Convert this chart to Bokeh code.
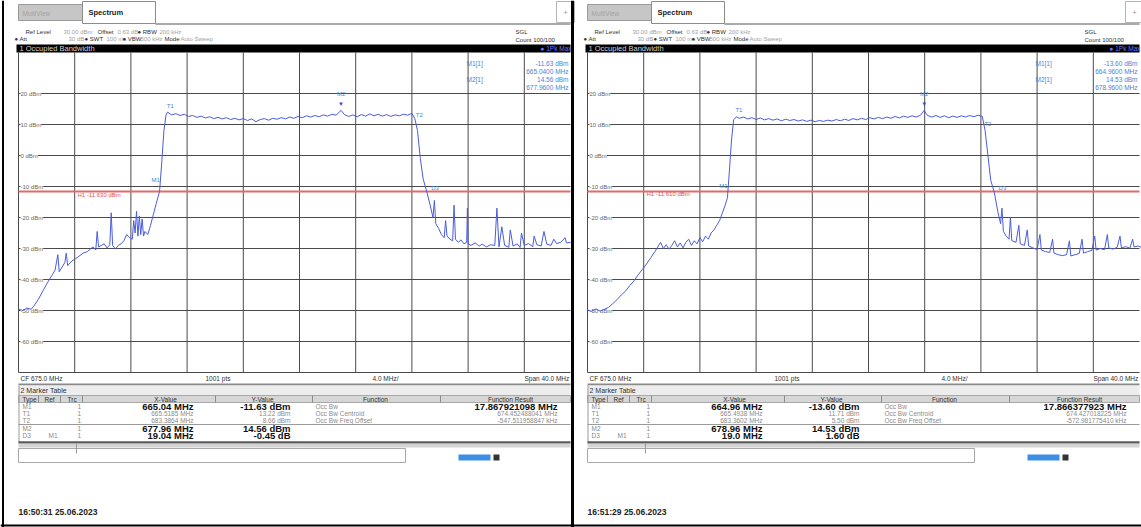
from bokeh.plotting import figure
from bokeh.models import Range1d
from bokeh.embed import file_html
from bokeh.resources import INLINE
from bokeh.core.properties import value

# ---------------- data ----------------
cf_mhz = 675.0
span_mhz = 40.0
ref_level_dbm = 30.0
db_per_div = 10.0

left_freq = [655.0, 655.3, 655.6, 655.9, 656.1, 656.4, 656.7, 657.0, 657.2, 657.4, 657.6, 657.8, 657.9,
             658.1, 658.3, 658.4, 658.5, 658.8, 659.0, 659.3, 659.6, 659.9, 660.1, 660.3, 660.5, 660.6,
             660.7, 660.9, 661.1, 661.3, 661.5, 661.6, 661.7, 661.9, 662.1, 662.3, 662.5, 662.7, 662.9,
             663.1, 663.2, 663.3, 663.4, 663.5, 663.6, 663.7, 663.8, 663.9, 664.0, 664.2, 664.4, 664.6,
             664.8, 665.04, 665.2, 665.35, 665.5, 665.6, 665.9, 666.2, 666.5, 666.8, 667.1, 667.4, 667.7,
             668.0, 668.3, 668.6, 668.9, 669.2, 669.5, 669.8, 670.1, 670.4, 670.7, 671.0, 671.3, 671.6,
             671.9, 672.2, 672.5, 672.8, 673.1, 673.4, 673.7, 674.0, 674.3, 674.6, 674.9, 675.2, 675.5,
             675.8, 676.1, 676.4, 676.7, 677.0, 677.3, 677.6, 677.96, 678.2, 678.5, 678.8, 679.1, 679.4,
             679.7, 680.0, 680.3, 680.6, 680.9, 681.2, 681.5, 681.8, 682.1, 682.4, 682.7, 683.0, 683.2,
             683.4, 683.6, 683.8, 684.08, 684.3, 684.5, 684.6, 684.7, 684.9, 685.1, 685.3, 685.4, 685.5,
             685.7, 685.9, 686.0, 686.1, 686.3, 686.5, 686.7, 686.9, 686.95, 687.0, 687.2, 687.5, 687.8,
             688.0, 688.3, 688.6, 688.9, 689.05, 689.2, 689.4, 689.6, 689.9, 690.0, 690.2, 690.5, 690.7,
             690.8, 691.0, 691.3, 691.6, 691.7, 691.9, 692.2, 692.4, 692.6, 692.9, 693.1, 693.3, 693.6,
             693.9, 694.0, 694.3]
left_dbm = [-49.5, -50.0, -49.2, -49.6, -48.5, -46.5, -44.0, -41.5, -40.0, -38.5, -37.0, -32.0, -37.5,
            -36.0, -34.5, -31.5, -35.5, -34.0, -33.5, -32.5, -31.5, -31.0, -30.2, -29.5, -30.5, -24.5,
            -29.5, -29.0, -28.5, -29.8, -28.8, -18.5, -29.0, -30.2, -29.0, -28.5, -27.5, -25.5, -26.5,
            -27.0, -21.0, -25.0, -18.0, -26.0, -19.5, -25.5, -20.5, -26.0, -24.5, -25.5, -22.5, -19.0,
            -15.5, -11.63, -2.0, 8.0, 13.0, 14.0, 13.1, 13.5, 12.9, 13.3, 12.6, 12.9, 12.3,
            12.7, 12.1, 12.5, 11.9, 12.3, 11.8, 12.2, 11.6, 12.0, 11.5, 11.9, 11.3, 11.8,
            10.9, 11.6, 11.9, 11.4, 12.0, 11.7, 12.2, 11.8, 12.4, 12.0, 12.6, 12.2, 12.8,
            12.4, 12.9, 12.5, 13.1, 12.7, 13.3, 13.0, 14.56, 13.2, 12.6, 13.1, 12.5, 13.2,
            12.7, 13.4, 12.8, 13.3, 12.7, 13.2, 12.6, 13.1, 12.8, 13.3, 13.0, 13.6, 12.0,
            8.0, -1.0, -7.5, -12.08, -16.0, -20.0, -14.5, -22.0, -23.5, -25.5, -26.5, -21.0, -26.0,
            -27.0, -27.5, -16.0, -27.0, -28.0, -27.2, -28.5, -28.0, -17.0, -28.5, -29.0, -28.2, -29.2,
            -28.6, -29.5, -28.8, -29.0, -17.0, -29.5, -23.0, -29.0, -29.6, -24.0, -29.2, -28.5, -29.7,
            -25.0, -29.0, -28.4, -29.4, -26.0, -28.8, -29.2, -24.5, -28.6, -29.0, -27.0, -28.4, -28.0,
            -26.5, -28.2, -28.0]

right_freq = [655.0, 655.3, 655.6, 655.9, 656.2, 656.5, 656.8, 657.1, 657.4, 657.7, 658.0, 658.3, 658.6,
              658.9, 659.2, 659.5, 659.8, 660.0, 660.2, 660.4, 660.6, 660.8, 661.0, 661.2, 661.4, 661.6,
              661.8, 662.0, 662.2, 662.4, 662.6, 662.8, 663.0, 663.2, 663.4, 663.6, 663.8, 664.0, 664.2,
              664.4, 664.6, 664.8, 664.96, 665.1, 665.25, 665.4, 665.6, 665.8, 666.1, 666.4, 666.7, 667.0,
              667.3, 667.6, 667.9, 668.2, 668.5, 668.8, 669.1, 669.4, 669.7, 670.0, 670.3, 670.6, 670.9,
              671.2, 671.5, 671.8, 672.1, 672.4, 672.7, 673.0, 673.3, 673.6, 673.9, 674.2, 674.5, 674.8,
              675.1, 675.4, 675.7, 676.0, 676.3, 676.6, 676.9, 677.2, 677.5, 677.8, 678.1, 678.4, 678.7,
              678.96, 679.2, 679.5, 679.8, 680.1, 680.4, 680.7, 681.0, 681.3, 681.6, 681.9, 682.2, 682.5,
              682.8, 683.1, 683.3, 683.5, 683.7, 683.96, 684.2, 684.4, 684.5, 684.6, 684.8, 685.0, 685.1,
              685.2, 685.5, 685.7, 685.8, 686.1, 686.3, 686.4, 686.7, 687.0, 687.2, 687.3, 687.6, 687.9,
              688.1, 688.2, 688.5, 688.8, 689.1, 689.3, 689.4, 689.7, 690.0, 690.2, 690.3, 690.6, 690.9,
              691.1, 691.2, 691.5, 691.8, 692.0, 692.1, 692.4, 692.7, 692.9, 693.0, 693.3, 693.6, 693.8,
              693.9, 694.2, 694.4, 694.7, 695.0]
right_dbm = [-49.8, -50.3, -49.5, -50.2, -49.6, -49.0, -47.8, -46.5, -45.0, -43.8, -42.0, -40.5, -38.5,
             -36.8, -35.0, -33.0, -31.0, -29.5, -28.0, -30.0, -28.8, -30.2, -29.0, -27.5, -29.5, -28.2,
             -29.8, -28.0, -27.0, -29.0, -27.5, -28.5, -26.5, -27.8, -26.0, -27.0, -25.0, -24.0, -22.5,
             -21.0, -18.5, -16.0, -13.60, -5.0, 5.0, 11.5, 12.5, 12.0, 12.4, 11.8, 12.2, 11.6,
             12.1, 11.5, 11.9, 11.4, 11.8, 11.2, 11.7, 11.3, 11.6, 11.1, 11.5, 11.0, 11.4,
             10.9, 11.3, 11.0, 11.4, 11.1, 11.6, 11.2, 11.7, 11.3, 11.9, 11.5, 12.0, 11.6,
             12.2, 11.8, 12.3, 11.9, 12.4, 12.0, 12.6, 12.1, 12.7, 12.3, 12.8, 12.4, 13.0,
             14.53, 12.9, 12.4, 12.9, 12.3, 12.8, 12.2, 12.7, 12.3, 12.8, 12.4, 12.9, 12.5,
             13.0, 12.6, 8.0, 0.0, -8.0, -12.0, -18.0, -22.0, -17.0, -24.5, -26.0, -27.0, -20.0,
             -27.5, -28.0, -22.5, -28.5, -29.0, -24.0, -29.2, -29.8, -30.3, -25.5, -30.5, -31.0, -31.3,
             -27.0, -31.5, -32.0, -32.3, -32.0, -27.5, -32.4, -32.0, -31.6, -27.0, -31.5, -31.0, -30.6,
             -26.0, -30.5, -30.0, -30.4, -25.5, -29.8, -30.2, -29.6, -26.0, -29.8, -29.4, -29.9, -27.0,
             -29.5, -29.2, -29.6, -29.0, -29.4]

level_labels = ["20 dBm", "10 dBm", "0 dBm", "-10 dBm", "-20 dBm", "-30 dBm", "-40 dBm", "-50 dBm", "-60 dBm"]
label_levels = [20, 10, 0, -10, -20, -30, -40, -50, -60]

marker_names = ["M1", "T1", "T2", "M2", "D3"]
left_mk_freq = [665.04, 665.5185, 683.3864, 677.96, 684.08]
left_mk_dbm = [-11.63, 13.22, 8.66, 14.56, -12.08]
right_mk_freq = [664.96, 665.4938, 683.3602, 678.96, 683.96]
right_mk_dbm = [-13.60, 11.71, 5.50, 14.53, -12.00]

left_line_dbm = -11.63
right_line_dbm = -11.61

left_table = [
    ["M1", "", "1", "665.04 MHz", "-11.63 dBm", "Occ Bw", "17.867921098 MHz"],
    ["T1", "", "1", "665.5185 MHz", "13.22 dBm", "Occ Bw Centroid", "674.452488041 MHz"],
    ["T2", "", "1", "683.3864 MHz", "8.66 dBm", "Occ Bw Freq Offset", "-547.511958847 kHz"],
    ["M2", "", "1", "677.96 MHz", "14.56 dBm", "", ""],
    ["D3", "M1", "1", "19.04 MHz", "-0.45 dB", "", ""],
]
right_table = [
    ["M1", "", "1", "664.96 MHz", "-13.60 dBm", "Occ Bw", "17.866377923 MHz"],
    ["T1", "", "1", "665.4938 MHz", "11.71 dBm", "Occ Bw Centroid", "674.427018225 MHz"],
    ["T2", "", "1", "683.3602 MHz", "5.50 dBm", "Occ Bw Freq Offset", "-572.981775410 kHz"],
    ["M2", "", "1", "678.96 MHz", "14.53 dBm", "", ""],
    ["D3", "M1", "1", "19.0 MHz", "1.60 dB", "", ""],
]
left_info = [["M1[1]", "-11.63 dBm"], ["", "665.0400 MHz"], ["M2[1]", "14.56 dBm"], ["", "677.9600 MHz"]]
right_info = [["M1[1]", "-13.60 dBm"], ["", "664.9600 MHz"], ["M2[1]", "14.53 dBm"], ["", "678.9600 MHz"]]
left_stamp = "16:50:31  25.06.2023"
right_stamp = "16:51:29  25.06.2023"

# ---------------- layout constants (screen pixels) ----------------
W, H = 1141, 527
KX = 56.2 / 4.0          # px per MHz
KY = 3.1                 # px per dB
REF_Y = 62               # pixel row of reference level
PLOT_TOP = 52
FONT = "Liberation Sans"

p = figure(width=W, height=H, x_range=Range1d(0, W), y_range=Range1d(H, 0),
           output_backend="svg", toolbar_location=None, min_border=0,
           x_axis_location=None, y_axis_location=None)
p.grid.visible = False
p.outline_line_color = None
p.background_fill_color = "white"
p.border_fill_color = "white"

f_start = cf_mhz - span_mhz / 2
p.extra_y_ranges["db"] = Range1d(ref_level_dbm - (H - REF_Y) / KY, ref_level_dbm + REF_Y / KY)
for name, px0 in (("fl", 18), ("fr", 587)):
    p.extra_x_ranges[name] = Range1d(f_start - px0 / KX, f_start + (W - px0) / KX)
top_db = ref_level_dbm + (REF_Y - PLOT_TOP) / KY


def txt(x, y, s, size=6.5, color="#333333", bold=False, align="left", **kw):
    p.text(x=[x], y=[y], text=[s], text_font=value(FONT), text_font_size=f"{size}px",
           text_color=color, text_align=align, text_baseline="middle",
           text_font_style="bold" if bold else "normal", **kw)


def box(l, r, t, b, fill, line=None, lw=1):
    p.quad(left=[l], right=[r], top=[t], bottom=[b], fill_color=fill,
           line_color=line, line_width=lw)


def hline(x0, x1, y, color, w=1):
    p.segment(x0=[x0], y0=[y], x1=[x1], y1=[y], line_color=color, line_width=w)


def vline(x, y0, y1, color, w=1):
    p.segment(x0=[x], y0=[y0], x1=[x], y1=[y1], line_color=color, line_width=w)


panels = [
    dict(o=0, xr="fl", freq=left_freq, dbm=left_dbm, mf=left_mk_freq, mv=left_mk_dbm,
         line=left_line_dbm, table=left_table, info=left_info, stamp=left_stamp),
    dict(o=569, xr="fr", freq=right_freq, dbm=right_dbm, mf=right_mk_freq, mv=right_mk_dbm,
         line=right_line_dbm, table=right_table, info=right_info, stamp=right_stamp),
]

BLUE_TXT = "#3f86d8"
for P in panels:
    o = P["o"]
    R = o + 570
    xr = P["xr"]
    f_crop = f_start + (R - (o + 18)) / KX

    # tabs
    box(o + 18, o + 82, 4, 20, "#c6c6c6", "#9a9a9a")
    txt(o + 22, 13, "MultiView", 6.5, "#a3a3a3")
    box(o + 82, o + 155, 1, 23, "#ffffff", "#8c8c8c")
    txt(o + 88, 12, "Spectrum", 7.5, "#1a1a1a", bold=True)
    hline(o + 155, R, 23.5, "#8c8c8c", 1.5)
    box(o + 556, o + 574, 1, 22, "#ffffff", "#b4b4b4")
    txt(o + 565, 12, "+", 7, "#909090", align="center")

    # header
    for x, s, dark in [(25, "Ref Level", 1), (63, "30.00 dBm", 0), (97, "Offset", 1), (117, "0.63 dB", 0),
                       (137, "\u25cf RBW", 1), (159, "200 kHz", 0)]:
        txt(o + x, 31, s, 6, "#303030" if dark else "#a0a0a0")
    for x, s, dark in [(14, "\u25cf Att", 1), (68, "30 dB", 0), (84, "\u25cf SWT", 1), (106, "100 ms", 0),
                       (122, "\u25cf VBW", 1), (140, "500 kHz", 0), (164, "Mode", 1), (180, "Auto Sweep", 0)]:
        txt(o + x, 38, s, 6, "#303030" if dark else "#a0a0a0")
    txt(o + 515, 31, "SGL", 6, "#303030")
    txt(o + 515, 39, "Count 100/100", 6, "#303030")

    # title bar
    box(o + 16, R, 44, 52, "#000000")
    txt(o + 19, 48, "1 Occupied Bandwidth", 7.5, "#d0d0d0")
    txt(o + 540, 48, "\u25cf 1Pk Max", 6.5, "#6a78ff")

    # grid (data coordinates)
    gx = [f for f in range(int(f_start), int(f_start + span_mhz) + 1, 4) if f <= f_crop]
    p.segment(x0=gx, y0=[ref_level_dbm - 10 * db_per_div] * len(gx), x1=gx, y1=[top_db] * len(gx),
              x_range_name=xr, y_range_name="db", line_color="#4a4a4a", line_width=1)
    gy = [ref_level_dbm - db_per_div * k for k in range(1, 11)]
    p.segment(x0=[f_start] * len(gy), y0=gy, x1=[f_crop] * len(gy), y1=gy,
              x_range_name=xr, y_range_name="db", line_color="#4a4a4a", line_width=1)
    p.text(x=[o + 20] * len(label_levels), y=label_levels, text=level_labels, y_range_name="db",
           text_font=value(FONT), text_font_size="6px", text_color="#666666",
           text_baseline="middle", background_fill_color="white")

    # display line
    p.segment(x0=[f_start], y0=[P["line"]], x1=[f_crop], y1=[P["line"]], x_range_name=xr,
              y_range_name="db", line_color="#e46a6a", line_width=2)
    p.text(x=[o + 77], y=[P["line"]], text=["H1 %.3f dBm" % P["line"]], y_range_name="db",
           y_offset=3, text_font=value(FONT), text_font_size="6px", text_color="#e05050",
           text_baseline="middle")

    # trace
    p.line(P["freq"], P["dbm"], x_range_name=xr, y_range_name="db", line_color="#4a5cdc", line_width=1)

    # marker symbols on the trace
    offs = {"M1": (-4, -12), "T1": (4, -9), "T2": (2, -14), "M2": (0, -16), "D3": (8, -5)}
    for n, f, v in zip(marker_names, P["mf"], P["mv"]):
        dx, dy = offs[n]
        p.text(x=[f], y=[v], text=[n], x_range_name=xr, y_range_name="db", x_offset=dx, y_offset=dy,
               text_font=value(FONT), text_font_size="6px", text_color=BLUE_TXT,
               text_align="center", text_baseline="middle")
    p.text(x=[P["mf"][3]], y=[P["mv"][3]], text=["\u25bc"], x_range_name=xr, y_range_name="db",
           y_offset=-6, text_font=value(FONT), text_font_size="6px", text_color="#2a4fd0",
           text_align="center", text_baseline="middle")

    # marker info
    for i, (a, b) in enumerate(P["info"]):
        y = 63 + 8 * i
        if a:
            txt(o + 466, y, a, 6.5, BLUE_TXT)
        txt(o + 568, y, b, 6.5, BLUE_TXT, align="right")

    # bottom of diagram
    txt(o + 20, 378, "CF %.1f MHz" % cf_mhz, 6.5, "#303030")
    txt(o + 205, 378, "1001 pts", 6.5, "#303030")
    txt(o + 372, 378, "%.1f MHz/" % (span_mhz / 10), 6.5, "#303030")
    txt(o + 524, 378, "Span %.1f MHz" % span_mhz, 6.5, "#303030")
    hline(o + 18, R, 384, "#8a8a8a", 2)

    # marker table
    box(o + 18, R, 385, 395, "#ededed")
    txt(o + 20, 390, "2 Marker Table", 7, "#303030")
    box(o + 18, R, 395, 402, "#d6d6d6", "#a8a8a8")
    for x, s in [(22, "Type"), (44, "Ref"), (67, "Trc")]:
        txt(o + x, 398.5, s, 6.5, "#303030")
    for x, s in [(165, "X-Value"), (262, "Y-Value"), (375, "Function"), (510, "Function Result")]:
        txt(o + x, 398.5, s, 6.5, "#303030", align="center")
    for x in (38, 60, 82, 215, 312, 440):
        vline(o + x, 395, 402, "#8c8c8c")
    rows_y = [406, 413, 420, 428, 435]
    for ry, row in zip(rows_y, P["table"]):
        strong = row[0] in ("M1", "M2", "D3")
        txt(o + 22, ry, row[0], 6.5, "#8a8a8a")
        txt(o + 48, ry, row[1], 6.5, "#8a8a8a")
        txt(o + 77, ry, row[2], 6.5, "#8a8a8a")
        txt(o + 193, ry, row[3], 9.5 if strong else 6.5, "#111111" if strong else "#8a8a8a",
            bold=strong, align="right")
        txt(o + 290, ry, row[4], 9.5 if strong else 6.5, "#111111" if strong else "#8a8a8a",
            bold=strong, align="right")
        txt(o + 315, ry, row[5], 6.5, "#8a8a8a")
        first = row[0] == "M1"
        txt(o + 557, ry, row[6], 9.5 if first else 6.5, "#111111" if first else "#8a8a8a",
            bold=first, align="right")
    hline(o + 18, R, 424, "#9a9a9a", 1)
    vline(o + 18.5, 385, 442, "#9a9a9a")
    hline(o + 18, R, 442, "#5a5a5a", 2.5)
    box(o + 18, R, 443, 447, "#d4d4d4")

    # status line
    box(o + 18, o + 405, 448, 462, "#ffffff", "#a8a8a8")
    vline(o + 76, 443, 453, "#9a9a9a")
    box(o + 458, o + 490, 454, 460, "#3d8fe6")
    box(o + 493, o + 499, 454, 460, "#333333")
    txt(o + 18, 511, P["stamp"], 8.5, "#222222", bold=True)

# screen borders and divider
box(570.5, 573.5, 0, H, "#000000")
vline(2.5, 0, H, "#000000", 2)
hline(0, W, 525, "#000000", 2)

open("out.html", "w").write(file_html(p, INLINE))
